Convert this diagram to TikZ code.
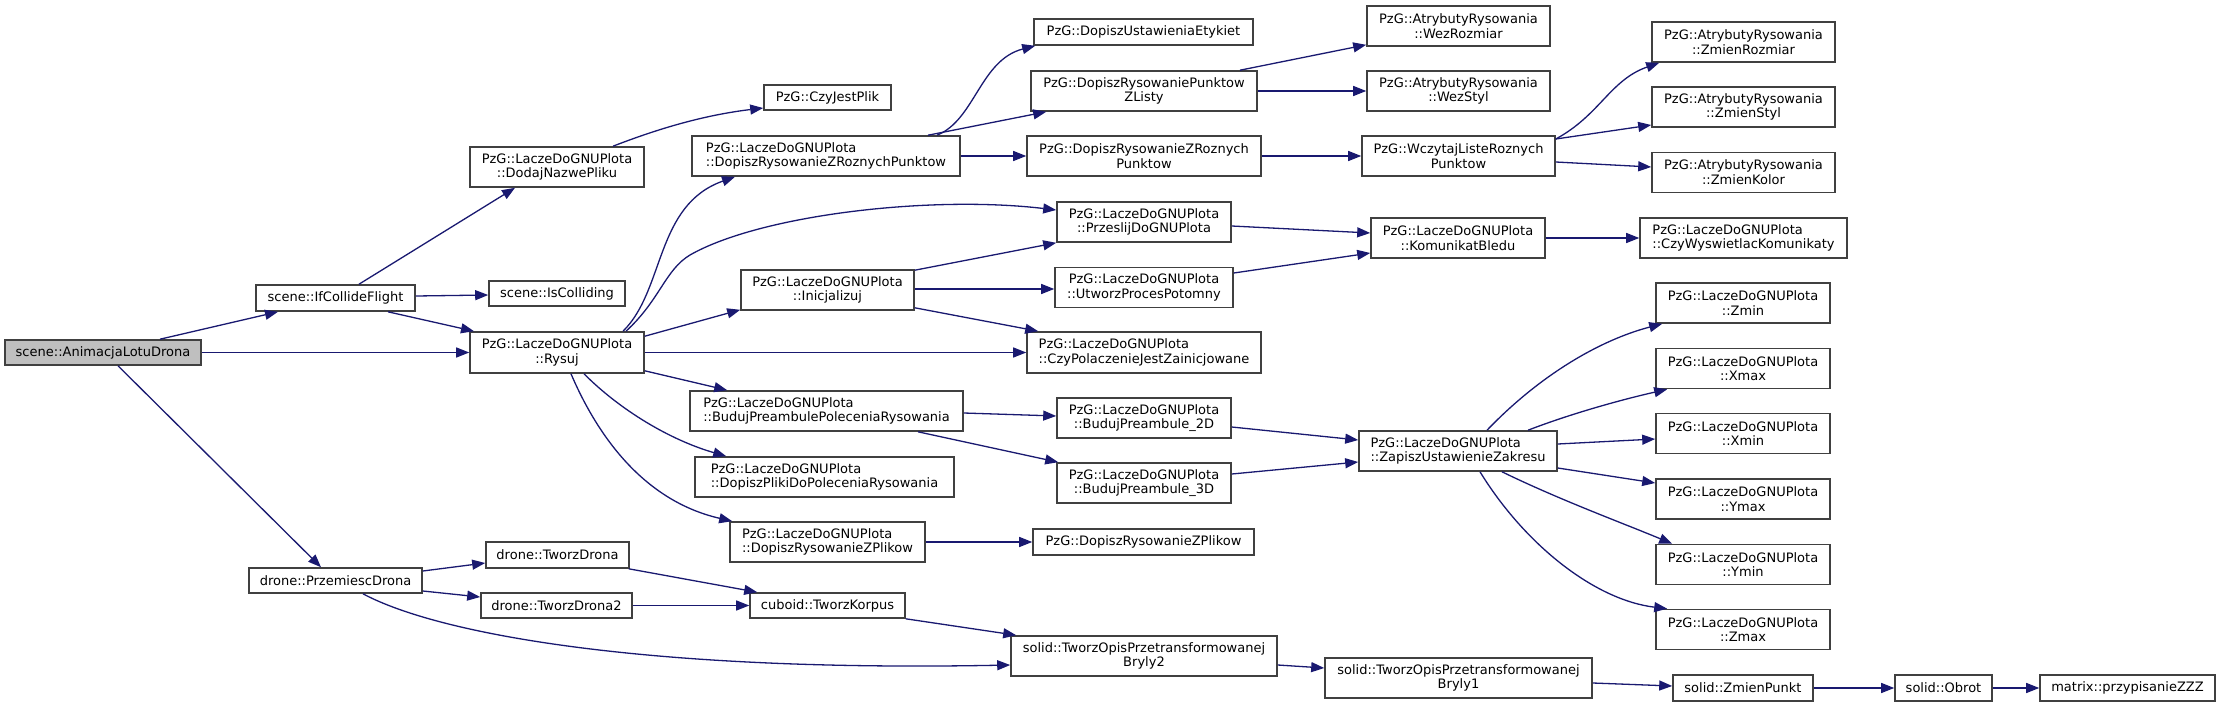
\documentclass[tikz,border=0pt]{standalone}
\usepackage{fontspec}
\setmainfont{DejaVu Sans}
\usetikzlibrary{arrows.meta}
\definecolor{edgec}{HTML}{191970}
\definecolor{boxc}{HTML}{404040}
\definecolor{rootc}{HTML}{BFBFBF}
\newcommand\bx[6]{\node[box,#1,minimum width=#4pt,minimum height=#5pt] (#2) at (#3) {#6};}
\begin{document}
\begin{tikzpicture}[x=1pt,y=-1pt,
  box/.style={draw=boxc,line width=1.6pt,fill=white,inner sep=0pt,align=center,
    font=\fontsize{13}{14.7}\selectfont},
  e/.style={draw=edgec,line width=1.3pt,-{Triangle[length=13pt,width=10pt]}}]
\useasboundingbox (0,0) rectangle (2220,707);
% column 0-1
\bx{fill=rootc}{anim}{103,352.5}{196}{25}{scene::AnimacjaLotuDrona}
\bx{}{ifc}{335.5,298}{159}{26}{scene::IfCollideFlight}
\bx{}{przem}{335.5,580.5}{173}{25}{drone::PrzemiescDrona}
\bx{}{dodaj}{557,167}{174}{40}{PzG::LaczeDoGNUPlota\\::DodajNazwePliku}
\bx{}{iscol}{557,293.5}{136}{25}{scene::IsColliding}
\bx{}{rysuj}{557,352.5}{174}{41}{PzG::LaczeDoGNUPlota\\::Rysuj}
\bx{}{tdrona}{557.5,555}{143}{26}{drone::TworzDrona}
\bx{}{tdrona2}{556.5,605.5}{151}{25}{drone::TworzDrona2}
% column 2
\bx{}{czyjest}{827.5,97.5}{127}{25}{PzG::CzyJestPlik}
\bx{align=left}{ldrzp}{826,156}{268}{40}{PzG::LaczeDoGNUPlota\\::DopiszRysowanieZRoznychPunktow}
\bx{}{inic}{827.5,290}{173}{40}{PzG::LaczeDoGNUPlota\\::Inicjalizuj}
\bx{align=left}{budpol}{826.5,411}{273}{40}{PzG::LaczeDoGNUPlota\\::BudujPreambulePoleceniaRysowania}
\bx{align=left}{dplik}{824.5,477}{259}{40}{PzG::LaczeDoGNUPlota\\::DopiszPlikiDoPoleceniaRysowania}
\bx{align=left}{ldrzpl}{827.5,542}{195}{40}{PzG::LaczeDoGNUPlota\\::DopiszRysowanieZPlikow}
\bx{}{korpus}{827.5,605.5}{155}{25}{cuboid::TworzKorpus}
% column 3
\bx{}{etyk}{1143.5,32}{219}{26}{PzG::DopiszUstawieniaEtykiet}
\bx{}{punktzl}{1144,91}{226}{40}{PzG::DopiszRysowaniePunktow\\ZListy}
\bx{}{pzgdrzp}{1144,156}{234}{40}{PzG::DopiszRysowanieZRoznych\\Punktow}
\bx{}{przeslij}{1144,222}{174}{40}{PzG::LaczeDoGNUPlota\\::PrzeslijDoGNUPlota}
\bx{}{utworz}{1144,287.5}{178}{40}{PzG::LaczeDoGNUPlota\\::UtworzProcesPotomny}
\bx{align=left}{czypol}{1144,352.5}{234}{41}{PzG::LaczeDoGNUPlota\\::CzyPolaczenieJestZainicjowane}
\bx{}{bpd}{1144,418}{174}{40}{PzG::LaczeDoGNUPlota\\::BudujPreambule\_2D}
\bx{}{bpt}{1144,483}{174}{40}{PzG::LaczeDoGNUPlota\\::BudujPreambule\_3D}
\bx{}{pzgdrzpl}{1143.5,542}{221}{26}{PzG::DopiszRysowanieZPlikow}
\bx{}{brylyb}{1144,656}{266}{40}{solid::TworzOpisPrzetransformowanej\\Bryly2}
% column 4
\bx{}{wezrozm}{1458.5,26}{183}{40}{PzG::AtrybutyRysowania\\::WezRozmiar}
\bx{}{wezstyl}{1458.5,91}{183}{40}{PzG::AtrybutyRysowania\\::WezStyl}
\bx{}{wczytaj}{1458.5,156}{193}{40}{PzG::WczytajListeRoznych\\Punktow}
\bx{}{komunikat}{1458,238}{174}{40}{PzG::LaczeDoGNUPlota\\::KomunikatBledu}
\bx{align=left}{zapisz}{1458,451}{198}{40}{PzG::LaczeDoGNUPlota\\::ZapiszUstawienieZakresu}
\bx{}{brylya}{1458.5,678}{267}{40}{solid::TworzOpisPrzetransformowanej\\Bryly1}
% column 5
\bx{}{zmrozm}{1743.5,42}{183}{40}{PzG::AtrybutyRysowania\\::ZmienRozmiar}
\bx{}{zmstyl}{1743.5,107}{183}{40}{PzG::AtrybutyRysowania\\::ZmienStyl}
\bx{}{zmkolor}{1743.5,172.5}{183}{40}{PzG::AtrybutyRysowania\\::ZmienKolor}
\bx{align=left}{czywysw}{1743.5,238}{207}{40}{PzG::LaczeDoGNUPlota\\::CzyWyswietlacKomunikaty}
\bx{}{zmin}{1743,303}{174}{40}{PzG::LaczeDoGNUPlota\\::Zmin}
\bx{}{xmax}{1743,368.5}{174}{40}{PzG::LaczeDoGNUPlota\\::Xmax}
\bx{}{xmin}{1743,433.5}{174}{40}{PzG::LaczeDoGNUPlota\\::Xmin}
\bx{}{ymax}{1743,499}{174}{40}{PzG::LaczeDoGNUPlota\\::Ymax}
\bx{}{ymin}{1743,564.5}{174}{40}{PzG::LaczeDoGNUPlota\\::Ymin}
\bx{}{zmax}{1743,629.5}{174}{40}{PzG::LaczeDoGNUPlota\\::Zmax}
\bx{}{zpunkt}{1743,688}{140}{26}{solid::ZmienPunkt}
\bx{}{obrot}{1943.5,688}{97}{26}{solid::Obrot}
\bx{}{przyp}{2127.5,688}{175}{26}{matrix::przypisanieZZZ}
% edges
\draw[e] ([shift={(57,0)}]anim.north) -- ([shift={(-57.5,0)}]ifc.south);
\draw[e] (anim.east) -- (rysuj.west);
\draw[e] ([shift={(15,0)}]anim.south) -- ([shift={(-14.5,0)}]przem.north);
\draw[e] ([shift={(23.5,0)}]ifc.north) -- ([shift={(-42,0)}]dodaj.south);
\draw[e] ([shift={(0,-2)}]ifc.east) -- ([shift={(0,1.5)}]iscol.west);
\draw[e] ([shift={(52.5,0)}]ifc.south) -- ([shift={(-83,0)}]rysuj.north);
\draw[e] ([shift={(56,0)}]dodaj.north) .. controls (660,128) and (705,115) .. ([shift={(0,10.5)}]czyjest.west);
\draw[e] ([shift={(66,0)}]rysuj.north) .. controls (665,290) and (655,205) .. ([shift={(-91,0)}]ldrzp.south);
\draw[e] ([shift={(69,0)}]rysuj.north) .. controls (660,300) and (665,270) .. (690,255)
   .. controls (760,215) and (930,195) .. ([shift={(0,-12)}]przeslij.west);
\draw[e] ([shift={(0,5)}]rysuj.north east) -- ([shift={(0,-1)}]inic.south west);
\draw[e] (rysuj.east) -- (czypol.west);
\draw[e] ([shift={(0,-3)}]rysuj.south east) -- ([shift={(38,0)}]budpol.north west);
\draw[e] ([shift={(27,0)}]rysuj.south) .. controls (620,410) and (670,440) .. ([shift={(32,0)}]dplik.north west);
\draw[e] ([shift={(14,0)}]rysuj.south) .. controls (595,430) and (640,500) .. ([shift={(3,0)}]ldrzpl.north west);
\draw[e] ([shift={(111,0)}]ldrzp.north) .. controls (975,120) and (980,60) .. ([shift={(2,0)}]etyk.south west);
\draw[e] ([shift={(102,0)}]ldrzp.north) -- ([shift={(16,0)}]punktzl.south west);
\draw[e] (ldrzp.east) -- (pzgdrzp.west);
\draw[e] ([shift={(96,0)}]punktzl.north) -- ([shift={(0,-2)}]wezrozm.south west);
\draw[e] (punktzl.east) -- (wezstyl.west);
\draw[e] (pzgdrzp.east) -- (wczytaj.west);
\draw[e] ([shift={(0,-17)}]wczytaj.east) .. controls (1600,115) and (1610,80) .. ([shift={(8,0)}]zmrozm.south west);
\draw[e] ([shift={(0,-17)}]wczytaj.east) -- ([shift={(0,18)}]zmstyl.west);
\draw[e] ([shift={(0,6)}]wczytaj.east) -- ([shift={(0,-5.5)}]zmkolor.west);
\draw[e] ([shift={(0,4)}]przeslij.east) -- ([shift={(0,-5)}]komunikat.west);
\draw[e] ([shift={(0,-14.5)}]utworz.east) -- ([shift={(0,15)}]komunikat.west);
\draw[e] (komunikat.east) -- (czywysw.west);
\draw[e] ([shift={(0,1)}]inic.north east) -- (przeslij.south west);
\draw[e] ([shift={(0,-1)}]inic.east) -- ([shift={(0,1.5)}]utworz.west);
\draw[e] ([shift={(0,-3)}]inic.south east) -- ([shift={(12,0)}]czypol.north west);
\draw[e] ([shift={(0,2)}]budpol.east) -- ([shift={(0,-2)}]bpd.west);
\draw[e] ([shift={(91.5,0)}]budpol.south) -- ([shift={(2,0)}]bpt.north west);
\draw[e] ([shift={(0,9)}]bpd.east) -- ([shift={(0,-11)}]zapisz.west);
\draw[e] ([shift={(0,-9)}]bpt.east) -- ([shift={(0,11)}]zapisz.west);
\draw[e] (ldrzpl.east) -- (pzgdrzpl.west);
\draw[e] ([shift={(29,0)}]zapisz.north) .. controls (1540,375) and (1600,340) .. ([shift={(7,0)}]zmin.south west);
\draw[e] ([shift={(70,0)}]zapisz.north) .. controls (1570,414) and (1620,400) .. ([shift={(12,0)}]xmax.south west);
\draw[e] ([shift={(0,-7)}]zapisz.east) -- ([shift={(0,5.5)}]xmin.west);
\draw[e] ([shift={(0,17)}]zapisz.east) -- ([shift={(0,-16)}]ymax.west);
\draw[e] ([shift={(44,0)}]zapisz.south) .. controls (1560,500) and (1620,522) .. ([shift={(17,0)}]ymin.north west);
\draw[e] ([shift={(22,0)}]zapisz.south) .. controls (1525,545) and (1595,600) .. ([shift={(12,0)}]zmax.north west);
\draw[e] ([shift={(0,-9.5)}]przem.east) -- ([shift={(0,8)}]tdrona.west);
\draw[e] ([shift={(0,10.5)}]przem.east) -- ([shift={(0,-8.5)}]tdrona2.west);
\draw[e] ([shift={(27.5,0)}]przem.south) .. controls (440,635) and (650,672) .. ([shift={(0,9)}]brylyb.west);
\draw[e] ([shift={(-1,0)}]tdrona.south east) -- ([shift={(8,0)}]korpus.north west);
\draw[e] (tdrona2.east) -- (korpus.west);
\draw[e] (korpus.south east) -- ([shift={(6,0)}]brylyb.north west);
\draw[e] ([shift={(0,9)}]brylyb.east) -- ([shift={(0,-10)}]brylya.west);
\draw[e] ([shift={(0,5)}]brylya.east) -- ([shift={(0,-2)}]zpunkt.west);
\draw[e] (zpunkt.east) -- (obrot.west);
\draw[e] (obrot.east) -- (przyp.west);
\end{tikzpicture}
\end{document}
